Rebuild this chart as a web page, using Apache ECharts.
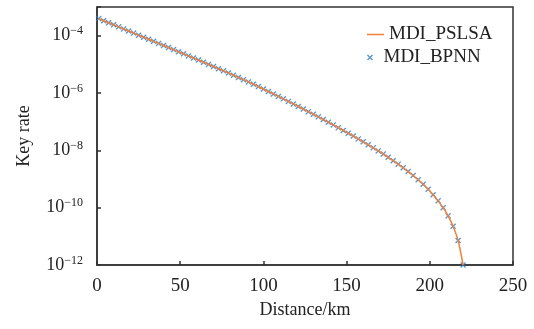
<!DOCTYPE html>
<html>
<head>
<meta charset="utf-8">
<script src="https://cdn.jsdelivr.net/npm/echarts@6/dist/echarts.min.js"></script>
<style>html,body{margin:0;padding:0;background:#fff}#c{width:534px;height:329px}</style>
</head>
<body>
<div id="c"></div>
<script>
const distance = [1,4,7,10,13,16,19,22,25,28,31,34,37,40,43,46,49,52,55,58,61,64,67,70,73,76,79,82,85,88,91,94,97,100,103,106,109,112,115,118,121,124,127,130,133,136,139,142,145,148,151,154,157,160,163,166,169,172,175,178,181,184,187,190,193,196,199,202,205,208,211,214,217,220];
const rateBPNN = [3.94e-4,3.33e-4,2.82e-4,2.39e-4,2.03e-4,1.72e-4,1.46e-4,1.23e-4,1.04e-4,8.85e-5,7.50e-5,6.35e-5,5.38e-5,4.56e-5,
  3.85e-5,3.26e-5,2.75e-5,2.33e-5,1.97e-5,1.66e-5,1.41e-5,
  1.18e-5,9.95e-6,8.37e-6,7.05e-6,5.93e-6,
  4.97e-6,4.16e-6,3.48e-6,2.92e-6,
  2.44e-6,2.02e-6,1.67e-6,1.38e-6,1.13e-6,9.29e-7,7.62e-7,6.24e-7,5.09e-7,4.16e-7,3.39e-7,2.75e-7,2.24e-7,1.82e-7,
  1.47e-7,1.19e-7,9.57e-8,7.71e-8,6.19e-8,4.95e-8,3.96e-8,3.16e-8,2.51e-8,1.98e-8,1.56e-8,1.22e-8,9.55e-9,
  7.41e-9,5.70e-9,4.36e-9,3.30e-9,2.47e-9,1.82e-9,1.32e-9,9.40e-10,6.52e-10,4.38e-10,2.82e-10,1.73e-10,9.98e-11,5.18e-11,2.26e-11,7.14e-12,1.0e-12];
const ratePSLSA = rateBPNN.slice();
const xTicks = [0,50,100,150,200,250];
const yLabelExps = [-12,-10,-8,-6,-4];

const FONT = '"Liberation Serif", "DejaVu Serif", serif';
const X_PATH = 'path://M0,1.6L1.6,0L5,3.4L8.4,0L10,1.6L6.6,5L10,8.4L8.4,10L5,6.6L1.6,10L0,8.4L3.4,5Z';

const chart = echarts.init(document.getElementById('c'), null, {renderer:'canvas'});
chart.setOption({
  animation:false,
  backgroundColor:'#fff',
  grid:{left:97,right:21,top:7,bottom:64,show:true,borderColor:'#333',borderWidth:1.5,backgroundColor:'transparent'},
  legend:[{
    left:362, top:20, orient:'vertical', itemWidth:17, itemHeight:1.5,
    data:[{name:'MDI_PSLSA', icon:'rect'}],
    textStyle:{fontFamily:FONT,fontSize:19,color:'#222'}
  },{
    left:362, top:43, orient:'vertical', itemWidth:17, itemHeight:6,
    data:[{name:'MDI_BPNN', icon:X_PATH}],
    textStyle:{fontFamily:FONT,fontSize:19,color:'#222'}
  }],
  xAxis:{
    type:'value', min:0, max:250, interval:50,
    name:'Distance/km', nameLocation:'middle', nameGap:34,
    nameTextStyle:{fontFamily:FONT,fontSize:18,color:'#222'},
    axisLine:{lineStyle:{color:'#333',width:1.5}},
    axisTick:{inside:true,length:4,lineStyle:{color:'#333',width:1.5}},
    axisLabel:{fontFamily:FONT,fontSize:19,color:'#222',margin:12,
      formatter:v=>xTicks.indexOf(v)>=0?String(v):''},
    splitLine:{show:false}
  },
  yAxis:{
    type:'log', logBase:10, min:1e-12, max:1e-3, interval:2,
    name:'Key rate', nameLocation:'middle', nameGap:64,
    nameTextStyle:{fontFamily:FONT,fontSize:18,color:'#222'},
    axisLine:{lineStyle:{color:'#333',width:1.5}},
    axisTick:{inside:true,length:4,lineStyle:{color:'#333',width:1.5}},
    axisLabel:{margin:14,
      formatter:function(v){
        const e = Math.round(Math.log10(v));
        if (yLabelExps.indexOf(e) < 0) return '';
        return '{b|10}{s|\u2212' + (-e) + '}';
      },
      rich:{
        b:{fontFamily:FONT,fontSize:18,color:'#222'},
        s:{fontFamily:FONT,fontSize:12,color:'#222',padding:[0,0,9,0]}
      }
    },
    splitLine:{show:false},
    minorTick:{show:false}
  },
  series:[{
    name:'MDI_PSLSA', type:'line', smooth:0.3, showSymbol:false,
    color:'#f47f36',
    lineStyle:{color:'#f47f36',width:1.5},
    data:distance.map((d,i)=>[d,ratePSLSA[i]]),
    z:3
  },{
    name:'MDI_BPNN', type:'scatter', symbol:X_PATH, symbolSize:6,
    color:'#2f7abf',
    itemStyle:{color:'#2f7abf'},
    data:distance.map((d,i)=>[d,rateBPNN[i]]),
    z:2
  }]
});
</script>
</body>
</html>
